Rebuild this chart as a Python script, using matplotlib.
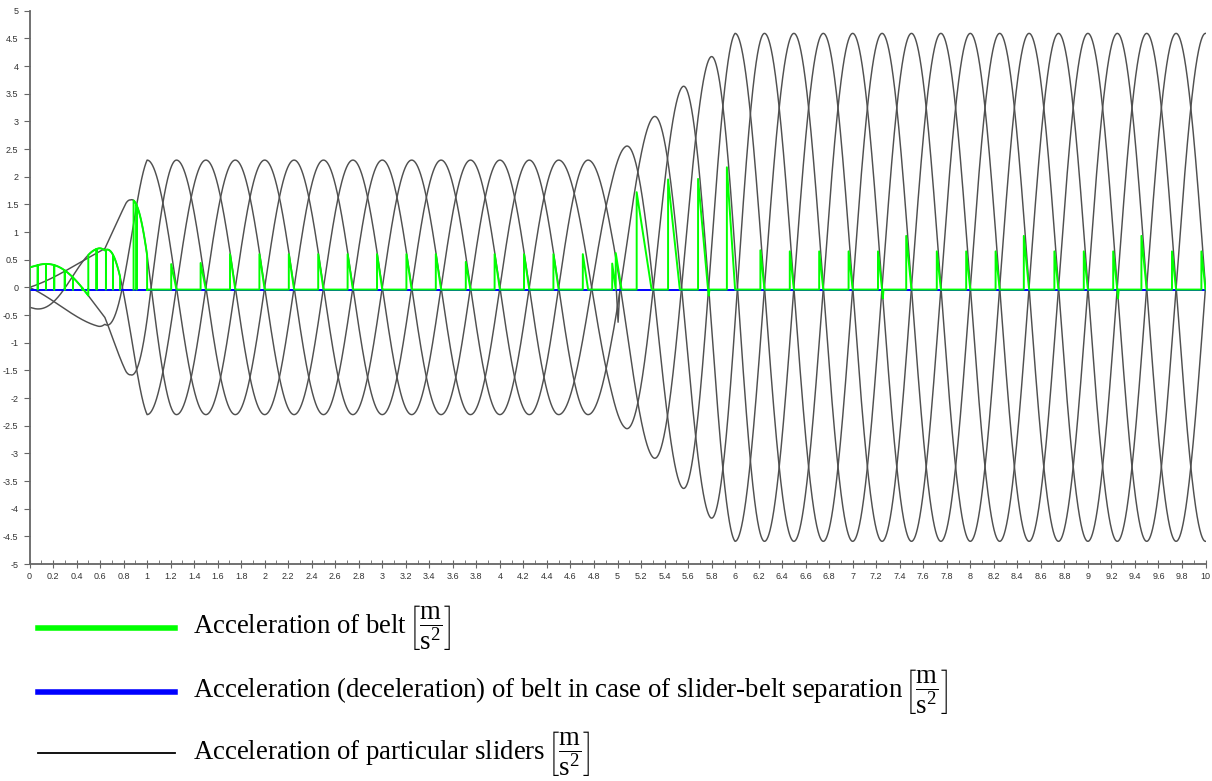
import numpy as np
import matplotlib
matplotlib.use("Agg")
import matplotlib.pyplot as plt
from matplotlib.lines import Line2D

# ---------------- data ----------------
# amplitude envelope of the sliders' acceleration [m/s^2]
env_t = [0.0, 0.58, 0.64, 0.82, 0.86, 1.0, 4.94, 5.06, 5.30, 5.55, 5.79, 6.0, 10.25]
env_a = [0.36, 0.70, 0.74, 1.52, 1.65, 2.30, 2.30, 2.53, 3.07, 3.62, 4.16, 4.59, 4.59]

# times of successive extrema marks (one slider peaks, the opposite one has a trough)
mark_t = [0.58, 0.82, 1.0, 1.25, 1.5, 1.75, 2.0, 2.25, 2.5, 2.75, 3.0, 3.25,
          3.5, 3.75, 4.0, 4.25, 4.5, 4.75, 5.06, 5.30, 5.55, 5.79, 6.0, 6.25,
          6.5, 6.75, 7.0, 7.25, 7.5, 7.75, 8.0, 8.25, 8.5, 8.75, 9.0, 9.25,
          9.5, 9.75, 10.0, 10.25]

# first extremum of every slider (time, +1 peak / -1 trough) and first mark index
slider_first_t = [-0.58, 0.07, 0.03, -0.82]
slider_first_sign = [1, 1, -1, -1]
slider_first_mark = [0, 1, 0, 1]

# belt acceleration: early phase where the belt moves with one slider
arc_start = [0.0, 0.50, 0.885]
arc_end = [0.50, 0.77, 1.0]
arc_slider = [1, 2, 3]
stem_t = [0.07, 0.14, 0.21, 0.30, 0.37, 0.45, 0.57, 0.65, 0.71, 0.91]

# belt acceleration spikes afterwards
spike_start = [1.205, 1.455, 1.705, 1.955, 2.205, 2.455, 2.705, 2.955, 3.205,
               3.455, 3.71, 3.955, 4.205, 4.455, 4.705, 4.955, 4.985, 5.163,
               5.43, 5.685, 5.93, 6.215, 6.465, 6.715, 6.965, 7.215, 7.455,
               7.715, 7.965, 8.215, 8.455, 8.715, 8.965, 9.215, 9.455, 9.715,
               9.965]
spike_end = [1.25, 1.50, 1.75, 2.0, 2.25, 2.5, 2.75, 3.0, 3.25, 3.5, 3.75, 4.0,
             4.25, 4.5, 4.75, 4.985, 5.035, 5.29, 5.53, 5.77, 6.0, 6.25, 6.5,
             6.75, 7.0, 7.25, 7.5, 7.75, 8.0, 8.25, 8.5, 8.75, 9.0, 9.25, 9.5,
             9.75, 10.0]
spike_height = [0.42, 0.44, 0.60, 0.60, 0.60, 0.60, 0.60, 0.60, 0.60, 0.60,
                0.46, 0.60, 0.60, 0.60, 0.60, 0.43, 0.62, 1.72, 1.95, 1.96,
                2.17, 0.67, 0.65, 0.65, 0.65, 0.65, 0.93, 0.65, 0.65, 0.65,
                0.93, 0.65, 0.65, 0.65, 0.93, 0.65, 0.65]
dip_t = [5.77, 7.25, 9.25]
dip_depth = [-0.15, -0.2, -0.2]

# short black glitch near t = 5
glitch_t = [4.99, 5.005, 5.02]
glitch_v = [-0.04, -0.63, -0.04]

base_level = -0.04          # belt baseline / separation level
sep_range = [0.0, 10.0]     # blue line extent

x_ticks = [round(0.2 * i, 1) for i in range(51)]
y_ticks = [5, 4.5, 4, 3.5, 3, 2.5, 2, 1.5, 1, 0.5, 0, -0.5, -1, -1.5, -2,
           -2.5, -3, -3.5, -4, -4.5, -5]

legend_labels = ["Acceleration of belt",
                 "Acceleration (deceleration) of belt in case of slider-belt separation",
                 "Acceleration of particular sliders"]
legend_colors = ["#00ff00", "#0000ff", "#000000"]

# ---------------- drawing ----------------
plt.rcParams["mathtext.fontset"] = "custom"
plt.rcParams["mathtext.rm"] = "Liberation Serif"
plt.rcParams["mathtext.it"] = "Liberation Serif:italic"

W, H = 1212, 781
fig = plt.figure(figsize=(W / 100, H / 100), dpi=100)
ax = fig.add_axes([29.5 / W, 1 - 564 / H, (1205.5 - 29.5) / W, (564 - 10.7) / H])

t = np.linspace(0.0, 10.0, 10001)


def slider_curve(k, tt):
    ext_t = [slider_first_t[k]] + mark_t[slider_first_mark[k]::2]
    signs = [slider_first_sign[k] * (-1) ** j for j in range(len(ext_t))]
    AA = np.interp(tt, env_t, env_a)
    v = np.full_like(tt, np.nan)
    v[tt < ext_t[0]] = AA[tt < ext_t[0]] * signs[0]
    for j in range(len(ext_t) - 1):
        t0, t1 = ext_t[j], ext_t[j + 1]
        m = (tt >= t0) & (tt <= t1)
        v[m] = AA[m] * signs[j] * np.cos(np.pi * (tt[m] - t0) / (t1 - t0))
    return v


for k in range(4):
    ax.plot(t, slider_curve(k, t), color="#505050", lw=1.05, zorder=2)
ax.plot(glitch_t, glitch_v, color="#505050", lw=1.05, zorder=2)

# blue separation line
ax.plot(sep_range, [base_level, base_level], color="#0000ff", lw=1.4, zorder=3)

# green belt acceleration
gx, gy = [], []
for s, e, k in zip(arc_start, arc_end, arc_slider):
    tt = np.linspace(s, e, 200)
    stems_here = [st for st in stem_t if s < st < e]
    tt = np.sort(np.concatenate([tt, stems_here]))
    vv = slider_curve(k, tt)
    xs, ys = [s], [base_level]
    for a, b in zip(tt, vv):
        xs.append(a); ys.append(b)
        if a in stems_here:
            xs += [a, a]; ys += [base_level, b]
    xs.append(e); ys.append(base_level)
    gx += xs + [np.nan]; gy += ys + [np.nan]

xs, ys = [1.0], [base_level]
for s, e, h in zip(spike_start, spike_end, spike_height):
    xs += [s, s, e]; ys += [base_level, h, base_level]
    for dt, dd in zip(dip_t, dip_depth):
        if abs(dt - e) < 1e-6:
            xs += [e + 0.006, e + 0.012]; ys += [dd, base_level]
xs.append(10.0); ys.append(base_level)
gx += xs; gy += ys
ax.plot(gx, gy, color="#00ff00", lw=1.4, zorder=4)

ax.set_xlim(0, 10)
ax.set_ylim(-5, 5)
for sp in ["top", "right"]:
    ax.spines[sp].set_visible(False)
for sp in ["left", "bottom"]:
    ax.spines[sp].set_color("#666666")
    ax.spines[sp].set_linewidth(1.3)

ax.set_xticks(x_ticks)
ax.set_xticklabels([f"{v:g}" for v in x_ticks], fontsize=6.5,
                   family="Liberation Sans", color="#333333")
ax.set_xticks([round(0.1 + 0.2 * i, 1) for i in range(50)], minor=True)
ax.set_yticks(y_ticks)
ax.set_yticklabels([f"{v:g}" for v in y_ticks], fontsize=6.5,
                   family="Liberation Sans", color="#333333")
ax.tick_params(axis="x", which="major", direction="inout", length=6,
               color="#666666", pad=3)
ax.tick_params(axis="x", which="minor", direction="in", length=3,
               color="#666666")
ax.tick_params(axis="y", which="major", direction="out", length=4,
               color="#666666", pad=4)

# legend drawn below the axes
leg_y = [628, 692, 753]
leg_lw = [4.0, 4.0, 1.3]
unit = r"$\,\left[\dfrac{\mathrm{m}}{\mathrm{s}^{2}}\right]$"
for lab, col, yy, lw in zip(legend_labels, legend_colors, leg_y, leg_lw):
    fy = 1 - yy / H
    fig.add_artist(Line2D([38 / W, 175 / W], [fy, fy], color=col, lw=lw))
    fig.text(193 / W, fy, lab + unit, fontsize=19.3,
             family="Liberation Serif", va="center", ha="left")

fig.savefig("out.png", dpi=100)
